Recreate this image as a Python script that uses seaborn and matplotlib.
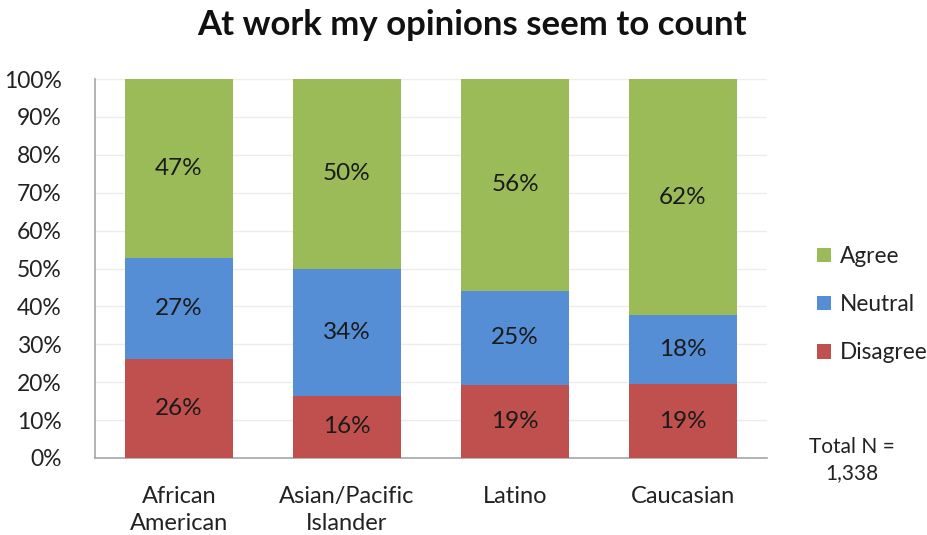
import matplotlib
matplotlib.use("Agg")
import matplotlib.pyplot as plt
import seaborn as sns
import pandas as pd
import numpy as np

categories = ["African\nAmerican", "Asian/Pacific\nIslander", "Latino", "Caucasian"]
disagree = [26.1, 16.4, 19.3, 19.4]
neutral = [26.7, 33.6, 24.8, 18.3]
agree = [47.2, 50.0, 55.9, 62.3]
disagree_labels = ["26%", "16%", "19%", "19%"]
neutral_labels = ["27%", "34%", "25%", "18%"]
agree_labels = ["47%", "50%", "56%", "62%"]
series_names = ["Disagree", "Neutral", "Agree"]
colors = {"Disagree": "#C0504D", "Neutral": "#558ED5", "Agree": "#9BBB59"}

sns.set_theme(style="white")
plt.rcParams['font.family'] = ['Lato', 'DejaVu Sans']

df = pd.DataFrame({"category": categories, "Disagree": disagree,
                   "Neutral": neutral, "Agree": agree})

fig = plt.figure(figsize=(9.27, 5.35), dpi=100)
ax = fig.add_axes([95/927, 1 - 458/535, (767-95)/927, (458-79)/535])

bottom = np.zeros(len(categories))
labels_map = {"Disagree": disagree_labels, "Neutral": neutral_labels, "Agree": agree_labels}
handles = {}
for name in series_names:
    vals = df[name].to_numpy()
    bars = ax.bar(np.arange(len(categories)), vals, bottom=bottom, width=0.645,
                  color=colors[name], edgecolor="none", zorder=3, label=name)
    handles[name] = bars
    for i, (b, v) in enumerate(zip(bottom, vals)):
        ax.text(i, b + v / 2, labels_map[name][i], ha="center", va="center",
                fontsize=17.5, color="#1a1a1a", zorder=4)
    bottom += vals

ax.set_xlim(-0.5, 3.5)
ax.set_ylim(0, 100)
ax.set_yticks(np.arange(0, 101, 10))
ax.set_yticklabels([f"{v}%" for v in range(0, 101, 10)])
ax.set_xticks(np.arange(len(categories)))
ax.set_xticklabels(categories, linespacing=1.35)
ax.tick_params(axis="y", length=0, labelsize=16.5, pad=24, colors="#222222")
ax.tick_params(axis="x", length=0, labelsize=17, pad=20, colors="#222222")
ax.grid(axis="y", color="#ececec", linewidth=1, zorder=0)
for s in ["top", "right"]:
    ax.spines[s].set_visible(False)
for s in ["left", "bottom"]:
    ax.spines[s].set_color("#a6a6a6")
    ax.spines[s].set_linewidth(1.2)

fig.text(472/927, 1 - 25/535, "At work my opinions seem to count", ha="center",
         va="center", fontsize=25, fontweight="bold", color="#111111")

leg = fig.legend([handles["Agree"], handles["Neutral"], handles["Disagree"]],
                 ["Agree", "Neutral", "Disagree"], loc="upper left",
                 bbox_to_anchor=(808/927, 1 - 237/535), frameon=False,
                 fontsize=16.3, handlelength=0.6, handleheight=0.6,
                 handletextpad=0.4, labelspacing=1.2, borderaxespad=0)
for t in leg.get_texts():
    t.set_color("#222222")

fig.text(852/927, 1 - 460/535, "Total N =\n1,338", ha="center", va="center",
         fontsize=15, color="#222222", linespacing=1.4)

fig.savefig("out.png", dpi=100)
